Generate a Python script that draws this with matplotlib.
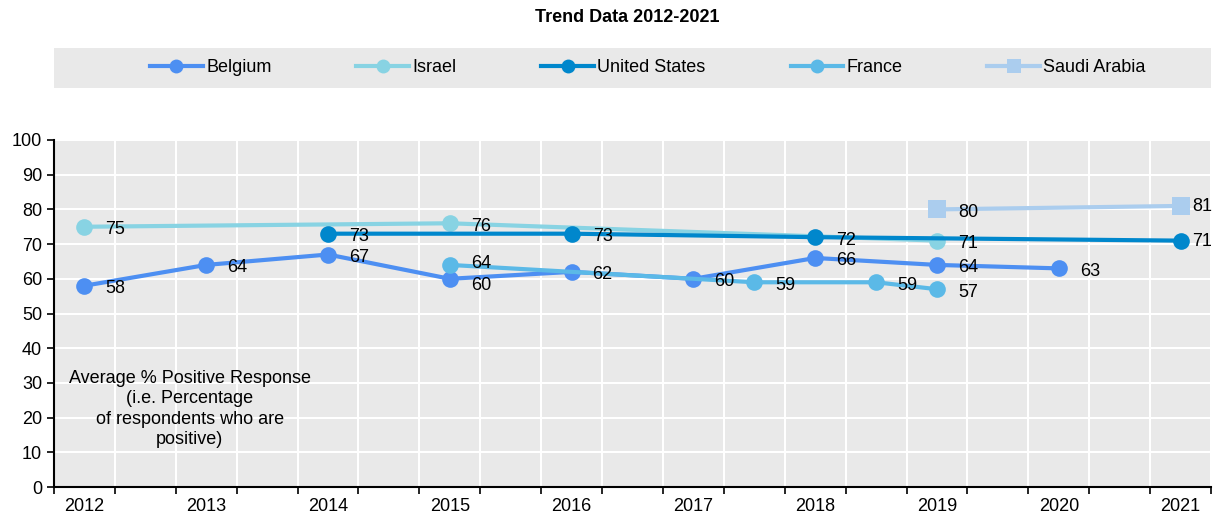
import numpy as np
import matplotlib.pyplot as plt
from matplotlib.patches import Rectangle
from matplotlib.lines import Line2D

plt.rcParams['font.family'] = ['Liberation Sans Narrow', 'Liberation Sans', 'DejaVu Sans']
plt.rcParams['font.size'] = 13

# category slots: a year every other slot, gaps between
slot_labels = ['2012', '', '2013', '', '2014', '', '2015', '', '2016', '',
               '2017', '', '2018', '', '2019', '', '2020', '', '2021']

belgium_x = [0, 2, 4, 6, 8, 10, 12, 14, 16]
belgium_y = [58, 64, 67, 60, 62, 60, 66, 64, 63]
israel_x = [0, 6, 14]
israel_y = [75, 76, 71]
us_x = [4, 8, 12, 18]
us_y = [73, 73, 72, 71]
france_x = [6, 11, 13, 14]
france_y = [64, 59, 59, 57]
saudi_x = [14, 18]
saudi_y = [80, 81]

c_bel = '#4d8ff2'
c_isr = '#88d3e3'
c_us = '#0087cc'
c_fra = '#5bb9e7'
c_sau = '#abcdee'

fig = plt.figure(figsize=(12.15, 5.16), dpi=100)
ax = fig.add_axes([54 / 1215, 1 - 487 / 516, 1157 / 1215, 347 / 516])
ax.set_facecolor('#e9e9e9')

series = [
    (saudi_x, saudi_y, c_sau, 's', 'Saudi Arabia'),
    (israel_x, israel_y, c_isr, 'o', 'Israel'),
    (belgium_x, belgium_y, c_bel, 'o', 'Belgium'),
    (france_x, france_y, c_fra, 'o', 'France'),
    (us_x, us_y, c_us, 'o', 'United States'),
]
for xs, ys, col, mk, name in series:
    ax.plot(xs, ys, color=col, lw=3, marker=mk, ms=12 if mk == 'o' else 13,
            markeredgewidth=0, zorder=3)
    for x, y in zip(xs, ys):
        dy = -3
        if name == 'France' and x == 6:
            dy = 1
        if name == 'Belgium' and x == 6:
            dy = -7
        if x == 18:
            ax.annotate(str(y), (x, y), xytext=(12, -1), textcoords='offset pixels',
                        ha='left', va='center', fontsize=13, zorder=4)
        else:
            ax.annotate(str(y), (x, y), xytext=(31, dy), textcoords='offset pixels',
                        ha='center', va='center', fontsize=13, zorder=4)

ax.set_xlim(-0.5, 18.5)
ax.set_ylim(0, 100)
ax.set_yticks(np.arange(0, 101, 10))
ax.set_xticks(np.arange(-0.5, 19, 1))
ax.set_xticklabels([])
ax.set_xticks(np.arange(0, 19, 2), minor=True)
ax.set_xticklabels([slot_labels[i] for i in range(0, 19, 2)], minor=True)
ax.tick_params(axis='x', which='minor', length=0, pad=8, labelsize=13)
ax.tick_params(axis='x', which='major', length=5, direction='out', width=1.2)
ax.tick_params(axis='y', length=5, width=1.2, labelsize=13)
ax.grid(True, which='major', color='white', lw=1.5, zorder=0)
ax.set_axisbelow(True)
for s in ['top', 'right']:
    ax.spines[s].set_visible(False)
for s in ['left', 'bottom']:
    ax.spines[s].set_linewidth(1.5)

ax.text(1.73, 22.5, 'Average % Positive Response\n(i.e. Percentage\nof respondents who are\npositive)',
        ha='center', va='center', fontsize=13, linespacing=1.25)

fig.text(627 / 1215, 1 - 18 / 516, 'Trend Data 2012-2021', ha='center', va='center',
         fontsize=13, fontweight='bold')

fig.patches.append(Rectangle((54 / 1215, 1 - 88 / 516), 1157 / 1215, 40 / 516,
                             transform=fig.transFigure, facecolor='#e9e9e9',
                             edgecolor='none', zorder=0))
handles = [
    Line2D([], [], color=c_bel, lw=3, marker='o', ms=10, markeredgewidth=0),
    Line2D([], [], color=c_isr, lw=3, marker='o', ms=10, markeredgewidth=0),
    Line2D([], [], color=c_us, lw=3, marker='o', ms=10, markeredgewidth=0),
    Line2D([], [], color=c_fra, lw=3, marker='o', ms=10, markeredgewidth=0),
    Line2D([], [], color=c_sau, lw=3, marker='s', ms=10, markeredgewidth=0),
]
names = ['Belgium', 'Israel', 'United States', 'France', 'Saudi Arabia']
fig.legend(handles, names, loc='center', bbox_to_anchor=(648 / 1215, 1 - 68 / 516),
           ncol=5, frameon=False, handlelength=2.9, handletextpad=0.2,
           columnspacing=4.7, fontsize=13)

fig.savefig('out.png', dpi=100)
